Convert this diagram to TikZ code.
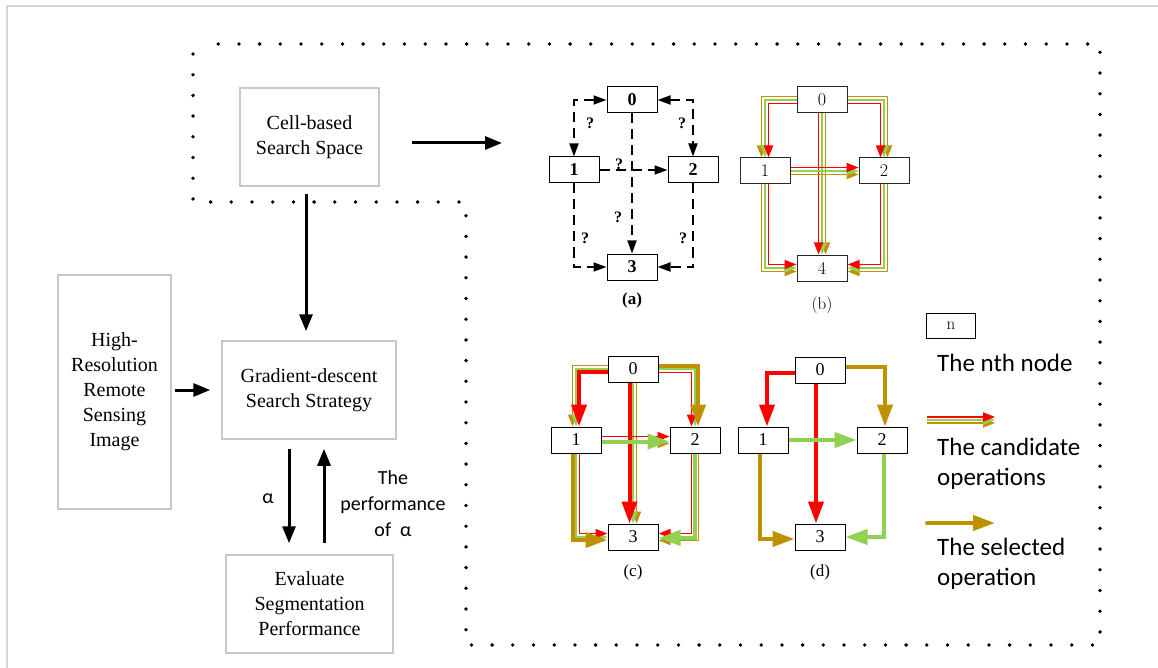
\documentclass[tikz,border=0pt]{standalone}
\usepackage{fontspec}
\usetikzlibrary{arrows.meta}
\newfontfamily\tnr{Liberation Serif}
\newfontfamily\carl{Carlito}
\definecolor{boxgray}{RGB}{200,200,200}
\definecolor{framegray}{RGB}{212,212,212}
\definecolor{opred}{RGB}{255,0,0}
\definecolor{opgreen}{RGB}{146,208,80}
\definecolor{opgold}{RGB}{191,144,0}
\pgfdeclarelayer{edges}
\pgfsetlayers{edges,main}
\begin{document}
\begin{tikzpicture}[x=1pt,y=-1pt,
  box/.style={draw=boxgray, line width=1.5pt, align=center, inner sep=0pt, font=\tnr\fontsize{20}{25}\selectfont},
  flow/.style={line width=3pt, -{Triangle[length=17pt,width=13pt]}},
  gnode/.style={draw, line width=1pt, minimum width=50pt, minimum height=26pt, inner sep=0pt, fill=white},
  anode/.style={gnode, font=\tnr\bfseries\fontsize{18}{20}\selectfont},
  bnode/.style={gnode, draw=black!85, text=black, font=\fontsize{18}{20}\selectfont},
  cnode/.style={gnode, font=\tnr\fontsize{18}{20}\selectfont},
  qlab/.style={font=\tnr\bfseries\fontsize{16}{18}\selectfont},
  sublab/.style={font=\tnr\fontsize{17}{19}\selectfont},
  dashedge/.style={line width=1.8pt, dash pattern=on 10pt off 6pt, -{Triangle[length=13pt,width=9pt]}},
  dashboth/.style={line width=1.8pt, dash pattern=on 10pt off 6pt, {Triangle[length=13pt,width=9pt]}-{Triangle[length=13pt,width=9pt]}},
  opthin/.style={line width=1.7pt, -{Triangle[length=12pt,width=9pt]}},
  opthick/.style={line width=4pt, line cap=round, -{Triangle[length=22pt,width=15pt]}},
  dotline/.style={line width=3.8pt, line cap=round, dash pattern=on 0pt off 20.7pt},
  legtext/.style={font=\carl\fontsize{25}{30}\selectfont, align=left, anchor=west, inner sep=0pt},
  perftext/.style={font=\carl\fontsize{20}{26}\selectfont, align=center, inner sep=0pt}
]
\useasboundingbox (0,0) rectangle (1158,668);
% frame
\draw[framegray, line width=1.2pt] (7,668) -- (7,6) -- (1158,6);
% dotted region
\draw[dotline] (193,54) -- (193,202) -- (466,202) -- (466,645) -- (1100,645) -- (1100,44) -- (203,44);

% main boxes
\node[box, minimum width=139pt, minimum height=98pt] (cell) at (309.5,137) {Cell-based\\Search Space};
\node[box, minimum width=113pt, minimum height=234pt] (hr) at (114.5,392) {High-\\Resolution\\Remote\\Sensing\\Image};
\node[box, minimum width=174pt, minimum height=98pt] (grad) at (309,390) {Gradient-descent\\Search Strategy};
\node[box, minimum width=167pt, minimum height=98pt] (eval) at (309.5,604) {Evaluate\\Segmentation\\Performance};

\coordinate (ca1) at (412,143);
\coordinate (ca2) at (502,143);
\draw[flow] (ca1) -- (ca2);
\draw[flow, shorten <=7pt, shorten >=9pt] ([xshift=-3.5pt]cell.south) -- ([xshift=-3.5pt]cell.south |- grad.north);
\draw[flow, shorten <=3pt, shorten >=11pt] (hr.east |- grad.west) -- (grad.west);
\draw[flow, shorten <=9pt, shorten >=11pt] ([xshift=-20pt]grad.south) -- ([xshift=-20pt]grad.south |- eval.north);
\draw[flow, shorten <=11pt, shorten >=9pt] ([xshift=15pt]grad.south |- eval.north) -- ([xshift=15pt]grad.south);
\node[perftext] (alab) at (268,499) {α};
\node[perftext] (plab) at (393,504) {The\\performance\\of~~α};

% ---------- (a)
\node[anode] (a0) at (632,100) {0};
\node[anode] (a1) at (574,170) {1};
\node[anode] (a2) at (693,170) {2};
\node[anode] (a3) at (632,267) {3};
\begin{pgfonlayer}{edges}
\draw[dashboth] (a0.west) -| (a1.north);
\draw[dashboth] (a0.east) -| (a2.north);
\draw[dashedge] (a1.east) -- (a2.west);
\draw[dashedge] (a0.south) -- (a3.north);
\draw[dashedge] (a1.south) |- (a3.west);
\draw[dashedge] (a2.south) |- (a3.east);
\end{pgfonlayer}
\node[qlab] (q01) at (590,123) {?};
\node[qlab] (q02) at (682,123) {?};
\node[qlab] (q12) at (619,164) {?};
\node[qlab] (q03) at (618,217) {?};
\node[qlab] (q13) at (585,238) {?};
\node[qlab] (q23) at (683,238) {?};
\node[sublab, font=\tnr\bfseries\fontsize{17}{19}\selectfont] (la) at (632,300) {(a)};

% ---------- (b)
\node[bnode] (b0) at (822,100) {0};
\node[bnode] (b1) at (765,171) {1};
\node[bnode] (b2) at (884,171) {2};
\node[bnode] (b4) at (822,268) {4};
\begin{pgfonlayer}{edges}
% 0->1
\draw[opthin,opgold] ([yshift=3.5pt]b0.west) -| ([xshift=-3.5pt]b1.north);
\draw[opthin,opgreen] (b0.west) -| (b1.north);
\draw[opthin,opred] ([yshift=-3.5pt]b0.west) -| ([xshift=3.5pt]b1.north);
% 0->2
\draw[opthin,opgold] ([yshift=3.5pt]b0.east) -| ([xshift=3.5pt]b2.north);
\draw[opthin,opgreen] (b0.east) -| (b2.north);
\draw[opthin,opred] ([yshift=-3.5pt]b0.east) -| ([xshift=-3.5pt]b2.north);
% 0->4
\draw[opthin,opgold] ([xshift=3.5pt]b0.south) -- ([xshift=3.5pt]b4.north);
\draw[opthin,opgreen] (b0.south) -- (b4.north);
\draw[opthin,opred] ([xshift=-3.5pt]b0.south) -- ([xshift=-3.5pt]b4.north);
% 1->2
\draw[opthin,opgold] ([yshift=-3.5pt]b1.east) -- ([yshift=-3.5pt]b2.west);
\draw[opthin,opgreen] (b1.east) -- (b2.west);
\draw[opthin,opred] ([yshift=3.5pt]b1.east) -- ([yshift=3.5pt]b2.west);
% 1->4
\draw[opthin,opgold] ([xshift=-3.5pt]b1.south) |- ([yshift=-3.5pt]b4.west);
\draw[opthin,opgreen] (b1.south) |- (b4.west);
\draw[opthin,opred] ([xshift=3.5pt]b1.south) |- ([yshift=3.5pt]b4.west);
% 2->4
\draw[opthin,opgold] ([xshift=3.5pt]b2.south) |- ([yshift=-3.5pt]b4.east);
\draw[opthin,opgreen] (b2.south) |- (b4.east);
\draw[opthin,opred] ([xshift=-3.5pt]b2.south) |- ([yshift=3.5pt]b4.east);
\end{pgfonlayer}
\node[sublab, font=\fontsize{17}{19}\selectfont] (lb) at (822,305) {(b)};

% ---------- (c)
\node[cnode] (c0) at (633,369) {0};
\node[cnode] (c1) at (576,440) {1};
\node[cnode] (c2) at (695,440) {2};
\node[cnode] (c3) at (633,537) {3};
\begin{pgfonlayer}{edges}
% 0->1 (red selected)
\draw[opthin,opgold] ([yshift=3.5pt]c0.west) -| ([xshift=-3.5pt]c1.north);
\draw[opthin,opgreen] (c0.west) -| (c1.north);
\draw[opthick,opred] ([yshift=-3pt]c0.west) -| ([xshift=3pt]c1.north);
% 0->2 (gold selected)
\draw[opthin,opgreen] (c0.east) -| (c2.north);
\draw[opthin,opred] ([yshift=-3.5pt]c0.east) -| ([xshift=-3.5pt]c2.north);
\draw[opthick,opgold] ([yshift=3pt]c0.east) -| ([xshift=3pt]c2.north);
% 0->3 (red selected)
\draw[opthin,opgold] ([xshift=3.5pt]c0.south) -- ([xshift=3.5pt]c3.north);
\draw[opthin,opgreen] (c0.south) -- (c3.north);
\draw[opthick,opred] ([xshift=-3.5pt]c0.south) -- ([xshift=-3.5pt]c3.north);
% 1->2 (green selected)
\draw[opthin,opgold] ([yshift=-3.5pt]c1.east) -- ([yshift=-3.5pt]c2.west);
\draw[opthin,opred] ([yshift=3.5pt]c1.east) -- ([yshift=3.5pt]c2.west);
\draw[opthick,opgreen] ([yshift=-1.5pt]c1.east) -- ([yshift=-1.5pt]c2.west);
% 1->3 (gold selected)
\draw[opthin,opgreen] (c1.south) |- (c3.west);
\draw[opthin,opred] ([xshift=3.5pt]c1.south) |- ([yshift=3.5pt]c3.west);
\draw[opthick,opgold] ([xshift=-3pt]c1.south) |- ([yshift=-3pt]c3.west);
% 2->3 (green selected)
\draw[opthin,opgold] ([xshift=3.5pt]c2.south) |- ([yshift=-3.5pt]c3.east);
\draw[opthin,opred] ([xshift=-3.5pt]c2.south) |- ([yshift=3.5pt]c3.east);
\draw[opthick,opgreen] (c2.south) |- ([yshift=-1pt]c3.east);
\end{pgfonlayer}
\node[sublab] (lc) at (633,572) {(c)};

% ---------- (d)
\node[cnode] (d0) at (820,370) {0};
\node[cnode] (d1) at (763,440) {1};
\node[cnode] (d2) at (882,440) {2};
\node[cnode] (d3) at (820,537) {3};
\begin{pgfonlayer}{edges}
\draw[opthick,opred] ([yshift=-3pt]d0.west) -| ([xshift=4pt]d1.north);
\draw[opthick,opgold] ([yshift=3pt]d0.east) -| ([xshift=3pt]d2.north);
\draw[opthick,opred] ([xshift=-4pt]d0.south) -- ([xshift=-4pt]d3.north);
\draw[opthick,opgreen] (d1.east) -- (d2.west);
\draw[opthick,opgold] ([xshift=-3pt]d1.south) |- ([yshift=-2pt]d3.west);
\draw[opthick,opgreen] ([xshift=2pt]d2.south) |- (d3.east);
\end{pgfonlayer}
\node[sublab] (ld) at (820,572) {(d)};

% ---------- legend
\node[gnode, minimum width=49pt, minimum height=25pt, font=\fontsize{17}{19}\selectfont] (ln) at (951,326) {n};
\node[legtext] (lt1) at (937,363) {The nth node};
\coordinate (lc1) at (927,420);
\coordinate (lc2) at (995,420);
\draw[opthin,opgold] ([yshift=-3pt]lc1) -- ([yshift=-3pt]lc2);
\draw[opthin,opgreen] (lc1) -- (lc2);
\draw[opthin,opred] ([yshift=3pt]lc1) -- ([yshift=3pt]lc2);
\node[legtext] (lt2) at (937,464) {The candidate\\operations};
\coordinate (ls1) at (927,523);
\coordinate (ls2) at (995,523);
\draw[opthick,opgold] (ls1) -- (ls2);
\node[legtext] (lt3) at (937,564) {The selected\\operation};
\end{tikzpicture}
\end{document}
